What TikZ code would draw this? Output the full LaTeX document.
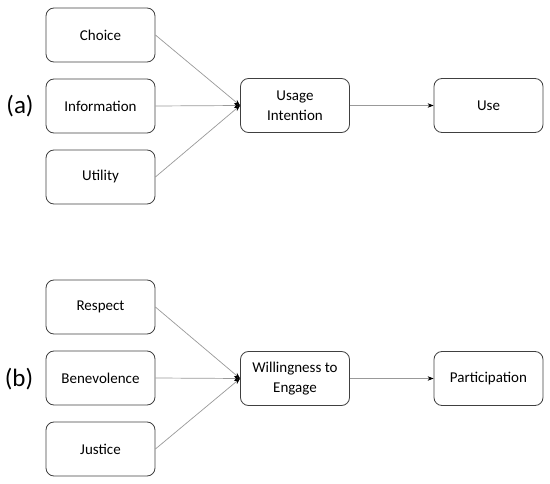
\documentclass[tikz,border=0pt]{standalone}
\usepackage{fontspec}
\setmainfont{Carlito}
\usetikzlibrary{arrows.meta}
\tikzset{
  factor/.style={draw=black!75, line width=0.8pt, rounded corners=8pt, minimum width=109pt, minimum height=54pt, align=center, font=\fontsize{15}{19.5}\selectfont, inner sep=2pt},
  link/.style={draw=black!40, line width=0.7pt, -{Stealth[black, length=6pt, width=4.5pt]}},
  panel/.style={font=\fontsize{25}{28}\selectfont}
}

\begin{document}
\begin{tikzpicture}[x=1pt,y=-1pt]
\useasboundingbox (0,0) rectangle (550,484);
% (a)
\node[panel] (la) at (20,106) {(a)};
\node[factor] (choice) at (100.5,35) {Choice};
\node[factor] (info) at (100.5,106) {Information};
\node[factor] (util) at (100.5,177) {Utility};
\node[factor] (intent) at (295,105.5) {Usage\\Intention};
\node[factor] (use) at (488.5,105.5) {Use};
\draw[link] (choice.east) -- (intent.west);
\draw[link] (info.east) -- (intent.west);
\draw[link] (util.east) -- (intent.west);
\draw[link] (intent) -- (use);
% (b)
\node[panel] (lb) at (19,379) {(b)};
\node[factor] (resp) at (100.5,307) {Respect};
\node[factor] (benev) at (100.5,378) {Benevolence};
\node[factor] (just) at (100.5,449) {Justice};
\node[factor] (engage) at (295,378.5) {Willingness to\\Engage};
\node[factor] (part) at (488.5,378.5) {Participation};
\draw[link] (resp.east) -- (engage.west);
\draw[link] (benev.east) -- (engage.west);
\draw[link] (just.east) -- (engage.west);
\draw[link] (engage) -- (part);
\end{tikzpicture}
\end{document}
